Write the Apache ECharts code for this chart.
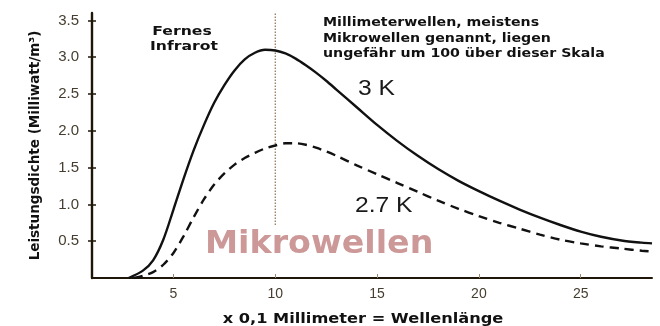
<!DOCTYPE html>
<html>
<head>
<meta charset="utf-8">
<script src="https://cdn.jsdelivr.net/npm/echarts@6/dist/echarts.min.js"></script>
<style>
  html, body { margin: 0; padding: 0; background: #fff; }
  #chart { width: 660px; height: 326px; }
</style>
</head>
<body>
<div id="chart"></div>
<script>
// Spectral power density of black-body radiation at 3 K and 2.7 K
// x: wavelength in units of 0.1 mm, y: mW/m³
const wavelength3K = [2.8, 3.5, 4.0, 4.5, 5.0, 5.5, 6.0, 6.5, 7.0, 7.5, 8.0, 8.5, 9.0, 9.5, 10, 10.5, 11, 11.5, 12, 12.5, 13, 14, 15, 16, 17, 18, 19, 20, 21, 22, 23, 24, 25, 26, 27, 28, 28.5];
const density3K    = [0, 0.1, 0.24, 0.52, 0.93, 1.35, 1.74, 2.08, 2.38, 2.62, 2.82, 2.97, 3.06, 3.1, 3.09, 3.05, 2.98, 2.89, 2.79, 2.68, 2.56, 2.32, 2.08, 1.86, 1.66, 1.48, 1.32, 1.18, 1.05, 0.93, 0.82, 0.72, 0.63, 0.56, 0.51, 0.48, 0.47];

const wavelength27K = [3.05, 3.5, 4.0, 4.5, 5.0, 5.5, 6.0, 6.5, 7.0, 7.5, 8.0, 8.5, 9.0, 9.5, 10, 10.5, 11, 11.5, 12, 12.5, 13, 14, 15, 16, 17, 18, 19, 20, 21, 22, 23, 24, 25, 26, 27, 28, 28.5];
const density27K    = [0, 0.03, 0.08, 0.18, 0.34, 0.57, 0.83, 1.07, 1.27, 1.42, 1.54, 1.63, 1.7, 1.76, 1.8, 1.83, 1.83, 1.81, 1.77, 1.72, 1.66, 1.53, 1.41, 1.29, 1.17, 1.05, 0.94, 0.84, 0.75, 0.67, 0.59, 0.52, 0.47, 0.43, 0.4, 0.37, 0.36];

// boundary between far infrared and millimetre waves
const boundaryX = [10, 10];
const boundaryY = [0.72, 3.68];

const xTicks = [5, 10, 15, 20, 25];
const yTicks = [0.5, 1.0, 1.5, 2.0, 2.5, 3.0, 3.5];

const zip = (xs, ys) => xs.map((x, i) => [x, ys[i]]);

const chart = echarts.init(document.getElementById('chart'), null, { renderer: 'canvas' });

const axisInk = '#1e1608';
const labelInk = '#453e30';
const boldFont = 'DejaVu Sans, Verdana, sans-serif';
const plainFont = 'Liberation Sans, Arial, Helvetica, sans-serif';

chart.setOption({
  backgroundColor: '#ffffff',
  animation: false,
  grid: { left: 92, right: 8, top: 13, bottom: 48, outerBoundsMode: 'none' },
  xAxis: {
    type: 'value',
    min: 1,
    max: 28.5,
    axisLine: { lineStyle: { color: axisInk, width: 2 } },
    axisTick: { inside: true, length: 4, lineStyle: { color: '#9a8a70', width: 1 }, customValues: xTicks },
    axisLabel: { customValues: xTicks, color: labelInk, fontFamily: plainFont, fontSize: 14, margin: 9 },
    splitLine: { show: false }
  },
  yAxis: [{
    type: 'value',
    min: 0,
    max: 3.6,
    name: 'Leistungsdichte (Milliwatt/m³)',
    nameLocation: 'middle',
    nameGap: 50,
    nameTextStyle: { fontFamily: boldFont, fontWeight: 'bold', fontSize: 13.5, color: '#111' },
    axisLine: { show: true, lineStyle: { color: axisInk, width: 2.4 } },
    axisTick: { show: true, length: 4, lineStyle: { color: axisInk, width: 1.5 }, customValues: yTicks },
    axisLabel: { customValues: yTicks, formatter: v => v.toFixed(1), color: labelInk, fontFamily: plainFont, fontSize: 15, margin: 13 },
    splitLine: { show: false }
  }, {
    // inner half of the cross-shaped ticks
    type: 'value',
    min: 0,
    max: 3.6,
    position: 'left',
    axisLine: { show: false },
    axisTick: { show: true, inside: true, length: 4, lineStyle: { color: axisInk, width: 1.5 }, customValues: yTicks },
    axisLabel: { show: false },
    splitLine: { show: false }
  }],
  series: [
    {
      name: '3 K',
      type: 'line',
      smooth: 0.3,
      symbol: 'none',
      data: zip(wavelength3K, density3K),
      lineStyle: { color: '#111', width: 2.4 },
      z: 3
    },
    {
      name: '2.7 K',
      type: 'line',
      smooth: 0.3,
      symbol: 'none',
      data: zip(wavelength27K, density27K),
      lineStyle: { color: '#111', width: 2.4, type: [9, 6] },
      z: 3
    },
    {
      name: 'Grenze',
      type: 'line',
      symbol: 'none',
      data: zip(boundaryX, boundaryY),
      lineStyle: { color: '#8b7050', width: 1.2, type: [1.5, 1.5] },
      z: 2
    }
  ],
  graphic: [
    { type: 'text', x: 205, y: 245, z: 1, scaleX: 1.04,
      style: { text: 'Mikrowellen', fill: '#cc9898', font: 'bold 32px ' + boldFont, textVerticalAlign: 'middle' } },
    { type: 'text', x: 182, y: 32, scaleX: 1.25,
      style: { text: 'Fernes', fill: '#111', font: 'bold 12.5px ' + boldFont, textAlign: 'center', textVerticalAlign: 'middle' } },
    { type: 'text', x: 184, y: 47, scaleX: 1.25,
      style: { text: 'Infrarot', fill: '#111', font: 'bold 12.5px ' + boldFont, textAlign: 'center', textVerticalAlign: 'middle' } },
    { type: 'text', x: 323, y: 23, scaleX: 1.18,
      style: { text: 'Millimeterwellen, meistens', fill: '#111', font: 'bold 12px ' + boldFont, textVerticalAlign: 'middle' } },
    { type: 'text', x: 323, y: 39, scaleX: 1.18,
      style: { text: 'Mikrowellen genannt, liegen', fill: '#111', font: 'bold 12px ' + boldFont, textVerticalAlign: 'middle' } },
    { type: 'text', x: 323, y: 54, scaleX: 1.18,
      style: { text: 'ungefähr um 100 über dieser Skala', fill: '#111', font: 'bold 12px ' + boldFont, textVerticalAlign: 'middle' } },
    { type: 'text', x: 358, y: 89, scaleX: 1.12,
      style: { text: '3 K', fill: '#1a1a1a', font: '22px ' + plainFont, textVerticalAlign: 'middle' } },
    { type: 'text', x: 355, y: 206, scaleX: 1.12,
      style: { text: '2.7 K', fill: '#1a1a1a', font: '22px ' + plainFont, textVerticalAlign: 'middle' } },
    // x-axis title
    { type: 'text', x: 363, y: 319, scaleX: 1.2,
      style: { text: 'x 0,1 Millimeter = Wellenlänge', fill: '#111', font: 'bold 13.5px ' + boldFont, textAlign: 'center', textVerticalAlign: 'middle' } }
  ]
});
</script>
</body>
</html>
